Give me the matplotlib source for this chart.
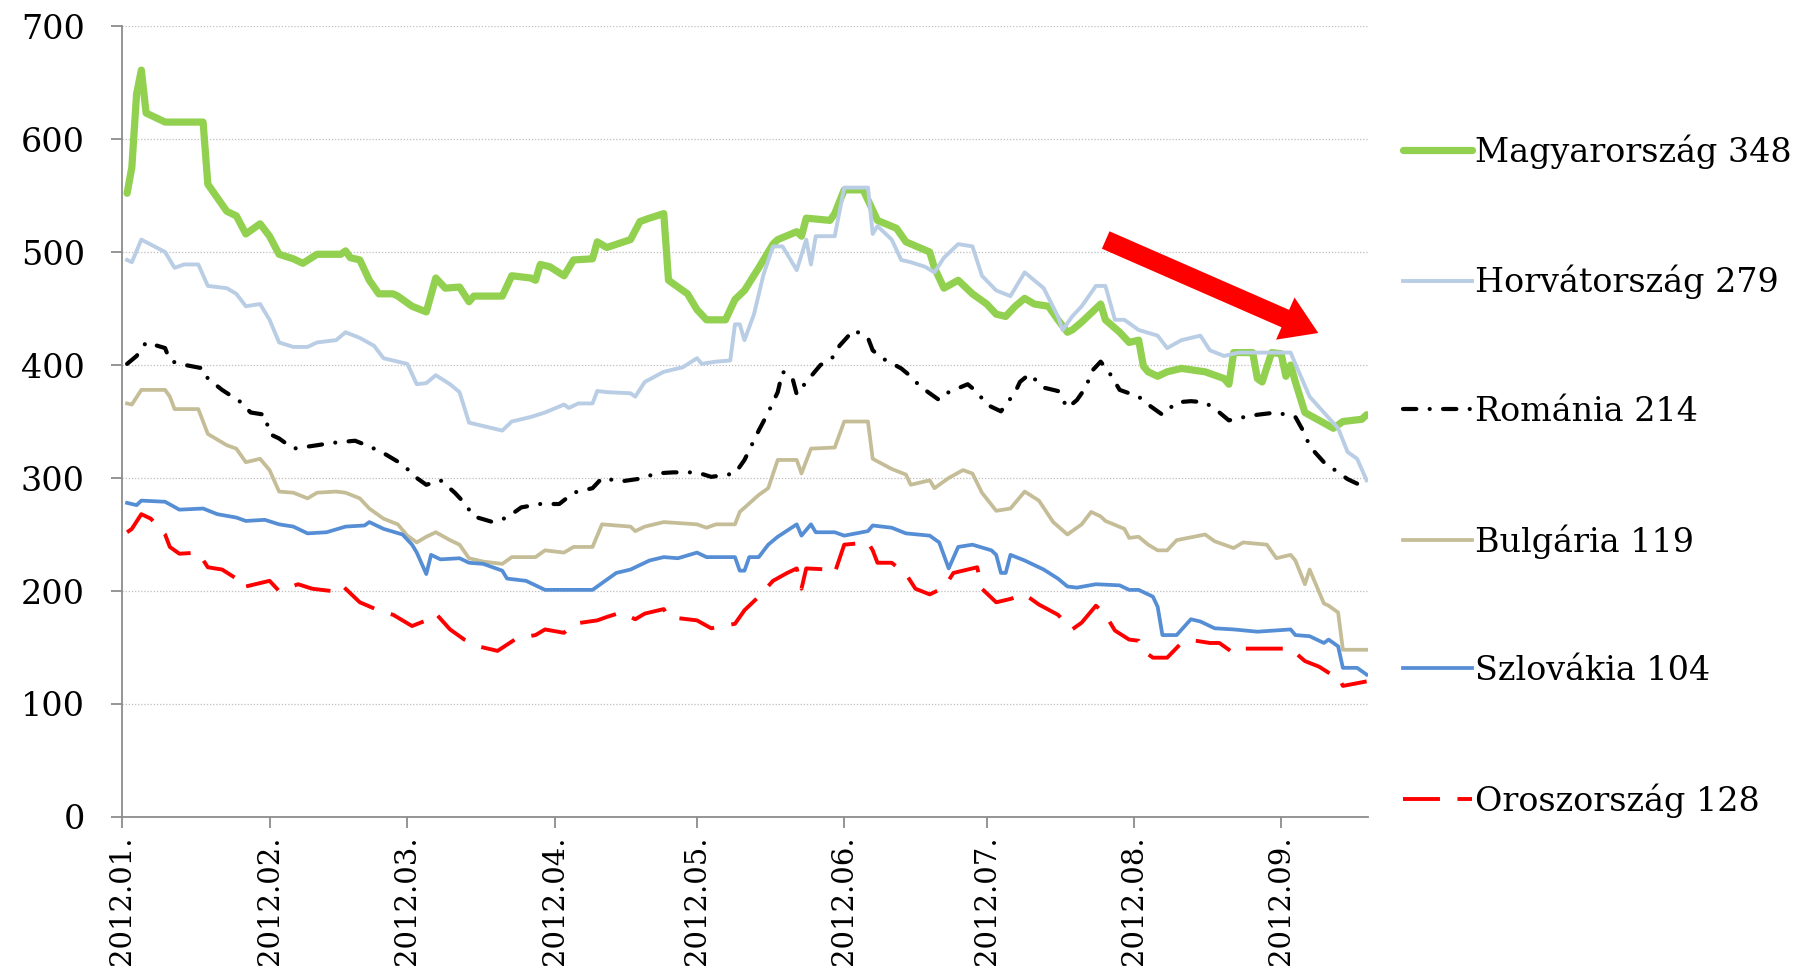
import numpy as np
import pandas as pd
import matplotlib
matplotlib.use("Agg")
import matplotlib.pyplot as plt
from matplotlib.patches import FancyArrow
from matplotlib.transforms import IdentityTransform

plt.rcParams['font.family'] = ['DejaVu Serif']

# ---------------- data (day = days since 2012-01-01) ----------------
labels = ["Magyarország 348", "Horvátország 279", "Románia 214",
          "Bulgária 119", "Szlovákia 104", "Oroszország 128"]

hu_days = [1,2,3,4,5,9,17,18,20,22, 24,26,29,31,33,36,38,41,46,47,
           48,50,52,54,57,58,61,64,66,68, 71,73,74,80,82,86,87,88,90,93,
           95,99,100,102,107,109,111,114,115,119, 121,123,127,129,131,134,137,138,142,143,
           144,149,150,152,156,158,159,163,165,170, 171,173,176,179,182,184,186,188,190,192,
           195,197,199,200,202,206,207,210,212,214, 215,216,218,220,223,228,232,233,234,238,
           239,240,242,244,245,246,247,249,252,255, 257,261,262]
hu_vals = [552,575,640,661,623,615,615,560,548,536, 532,516,525,514,498,494,490,498,498,501,
           495,493,475,463,463,461,452,447,477,468, 469,456,461,461,479,477,475,489,487,479,
           493,494,509,504,511,527,530,534,475,463, 449,440,440,458,466,486,507,511,518,514,
           530,528,534,555,555,537,528,521,509,500, 486,468,475,463,454,445,443,452,459,454,
           452,440,429,431,438,454,440,429,420,422, 399,394,390,394,397,394,388,383,411,411,
           388,385,411,410,390,400,385,358,351,344, 350,352,356]

hr_days = [1,2,4,9,11,13,16,18,22,24, 26,29,31,33,36,39,41,45,47,50,
           53,55,57,60,62,64,66,69,71,73, 76,80,82,86,89,93,94,96,99,100,
           102,107,108,110,114,118,121,122,125,128, 129,130,131,133,135,137,139,142,144,145,
           146,150,152,157,158,159,162,164,166,169, 171,173,176,179,181,184,187,190,194,197,
           198,200,202,205,207,209,211,214,218,220, 223,227,229,232,235,246,247,250,256,258,
           260,262]
hr_vals = [493,491,511,500,486,489,489,470,468,463, 452,454,440,420,416,416,420,422,429,424,
           417,406,404,401,383,384,391,383,376,349, 346,342,350,354,358,365,362,366,366,377,
           376,375,372,385,394,398,406,401,403,404, 436,436,422,445,480,505,505,484,511,489,
           514,514,557,557,516,523,511,493,491,487, 482,495,507,505,479,466,461,482,468,443,
           431,443,452,470,470,440,440,431,426,415, 422,426,413,408,411,411,401,372,344,323,
           317,298]

ro_days = [1,3,5,9,10,12,17,18,21,25, 27,30,31,33,36,41,44,49,52,55,
           59,62,64,67,70,72,74,78,81,84, 88,92,95,99,101,105,110,112,116,121,
           124,129,131,134,136,138,139,141,142,144, 145,147,150,151,154,157,158,160,164,166,
           168,172,174,178,180,182,185,188,189,191, 194,197,199,201,203,204,206,208,210,214,
           216,219,222,225,228,231,233,235,239,243, 247,249,250,253,256,258,262]
ro_vals = [401,408,420,415,404,401,397,388,378,367, 358,356,339,335,326,329,331,333,328,322,
           312,300,294,298,287,278,266,261,265,274, 277,277,287,291,300,297,300,304,305,305,
           301,304,316,342,358,376,394,390,374,385, 390,400,408,417,431,424,413,406,397,390,
           381,369,376,383,376,365,359,376,385,392, 380,377,362,369,381,394,403,392,378,372,
           365,356,367,368,367,358,351,353,356,358, 354,339,328,314,305,299,291]

bg_days = [1,2,4,9,10,11,16,18,22,24, 26,29,31,33,36,39,41,45,47,50,
           52,55,58,60,62,64,66,69,71,73, 76,80,82,87,89,93,95,99,101,107,
           108,110,114,121,123,125,129,130,134,136, 138,142,143,145,150,152,157,158,162,165,
           166,170,171,174,177,179,181,184,187,190, 193,196,199,202,204,206,207,211,212,214,
           216,218,220,222,228,230,234,236,241,243, 246,247,249,250,253,254,256,257,262]
bg_vals = [366,365,378,378,372,361,361,339,329,326, 314,317,307,288,287,282,287,288,287,282,
           273,264,259,249,243,248,252,245,241,229, 226,224,230,230,236,234,239,239,259,257,
           253,257,261,259,256,259,259,270,285,291, 316,316,304,326,327,350,350,317,308,303,
           294,298,291,300,307,304,287,271,273,288, 280,261,250,259,270,266,262,255,247,248,
           241,236,236,245,250,244,238,243,241,229, 232,227,206,219,189,187,181,148,148]

sk_days = [1,3,4,9,12,17,20,24,26,30, 33,36,39,43,47,51,52,55,59,61,
           62,64,65,67,71,73,76,80,81,85, 89,99,101,104,107,111,114,117,121,123,
           129,130,131,132,134,136,138,142,143,145, 146,150,152,157,158,162,165,170,172,174,
           176,179,183,184,185,186,187,190,194,197, 199,201,205,210,212,214,217,218,219,222,
           225,227,230,234,239,246,247,250,253,254, 256,257,260,262]
sk_vals = [278,276,280,279,272,273,268,265,262,263, 259,257,251,252,257,258,261,255,250,241,
           234,215,232,228,229,225,224,218,211,209, 201,201,207,216,219,227,230,229,234,230,
           230,218,218,230,230,241,248,259,249,259, 252,252,249,253,258,256,251,249,243,220,
           239,241,236,232,216,216,232,227,219,211, 204,203,206,205,201,201,195,186,161,161,
           175,173,167,166,164,166,161,160,154,157, 151,132,132,126]

ru_days = [1,2,4,6,9,10,12,16,18,21, 24,25,31,33,37,40,44,46,50,55,
           57,61,64,66,69,72,75,79,83,87, 89,93,95,100,102,105,108,110,114,115,
           121,124,129,131,134,137,140,142,143,144, 149,150,152,157,158,159,162,165,167,170,
           173,175,179,180,181,184,187,190,193,197, 200,202,205,207,209,212,214,215,217,220,
           223,226,229,231,234,236,246,249,252,255, 256,257,262]
ru_vals = [252,255,268,264,250,239,233,234,221,219, 211,203,209,200,206,202,200,206,190,181,
           179,169,174,180,166,157,151,147,158,161, 166,163,171,174,177,181,175,180,184,177,
           174,167,171,183,195,209,216,220,202,220, 219,216,241,243,236,225,225,215,202,197,
           203,216,220,221,202,190,193,197,188,179, 166,172,187,179,165,157,156,147,141,141,
           154,156,154,154,145,149,149,138,133,125, 125,116,120]

month_starts = ["2012-01-01", "2012-02-01", "2012-03-01", "2012-04-01", "2012-05-01",
                "2012-06-01", "2012-07-01", "2012-08-01", "2012-09-01"]
x_tick_labels = ["2012.01.", "2012.02.", "2012.03.", "2012.04.", "2012.05.",
                 "2012.06.", "2012.07.", "2012.08.", "2012.09."]
y_ticks = [0, 100, 200, 300, 400, 500, 600, 700]

# ---------------- drawing ----------------
START = pd.Timestamp("2012-01-01")


def to_dates(days):
    return START + pd.to_timedelta(np.asarray(days, dtype=float), unit="D")


fig = plt.figure(figsize=(18.18, 9.68), dpi=100)
ax = fig.add_axes([0.0673, 0.156, 0.6852, 0.8171])

styles = [
    dict(color="#92D050", lw=5.2, solid_joinstyle="round", solid_capstyle="round"),
    dict(color="#B9CDE5", lw=2.8, solid_joinstyle="round"),
    dict(color="black", lw=3.0, dashes=(3.2, 3.2, 0.01, 3.2), dash_capstyle="round",
         dash_joinstyle="round"),
    dict(color="#C4BD97", lw=2.7, solid_joinstyle="round"),
    dict(color="#558ED5", lw=2.7, solid_joinstyle="round"),
    dict(color="#FF0000", lw=2.8, dashes=(9.5, 4.5), dash_joinstyle="round"),
]
data = [(hu_days, hu_vals), (hr_days, hr_vals), (ro_days, ro_vals),
        (bg_days, bg_vals), (sk_days, sk_vals), (ru_days, ru_vals)]

for (d, v), lab, st in zip(data, labels, styles):
    ax.plot(to_dates(d), v, label=lab, **st)

ax.set_ylim(0, 700)
ax.set_xlim(START, START + pd.Timedelta(days=262.3))
ax.set_yticks(y_ticks)
ax.set_xticks(pd.to_datetime(month_starts))
ax.set_xticklabels(x_tick_labels, rotation=90)

ax.yaxis.grid(True, color="#BFBFBF", linestyle=(0, (1, 1.5)), linewidth=0.9)
ax.set_axisbelow(True)
for s in ("top", "right"):
    ax.spines[s].set_visible(False)
for s in ("left", "bottom"):
    ax.spines[s].set_color("#8C8C8C")
    ax.spines[s].set_linewidth(1.3)

ax.tick_params(axis="y", length=8, width=1.3, color="#8C8C8C", pad=19,
               labelsize=24, direction="out")
ax.tick_params(axis="x", length=8, width=1.3, color="#8C8C8C", pad=5,
               labelsize=21, direction="out")

ax.legend(loc="center left", bbox_to_anchor=(1403 / 1818, 0.5083),
          bbox_transform=fig.transFigure, frameon=False, fontsize=24,
          handlelength=2.07, handletextpad=0.1, labelspacing=2.89,
          borderpad=0, borderaxespad=0)

arrow = FancyArrow(1105.7, 728, 212.6, -93, width=19, head_width=46, head_length=36,
                   length_includes_head=True, color="#FF0000", lw=0,
                   transform=IdentityTransform())
fig.add_artist(arrow)

fig.savefig("out.png", dpi=100)
